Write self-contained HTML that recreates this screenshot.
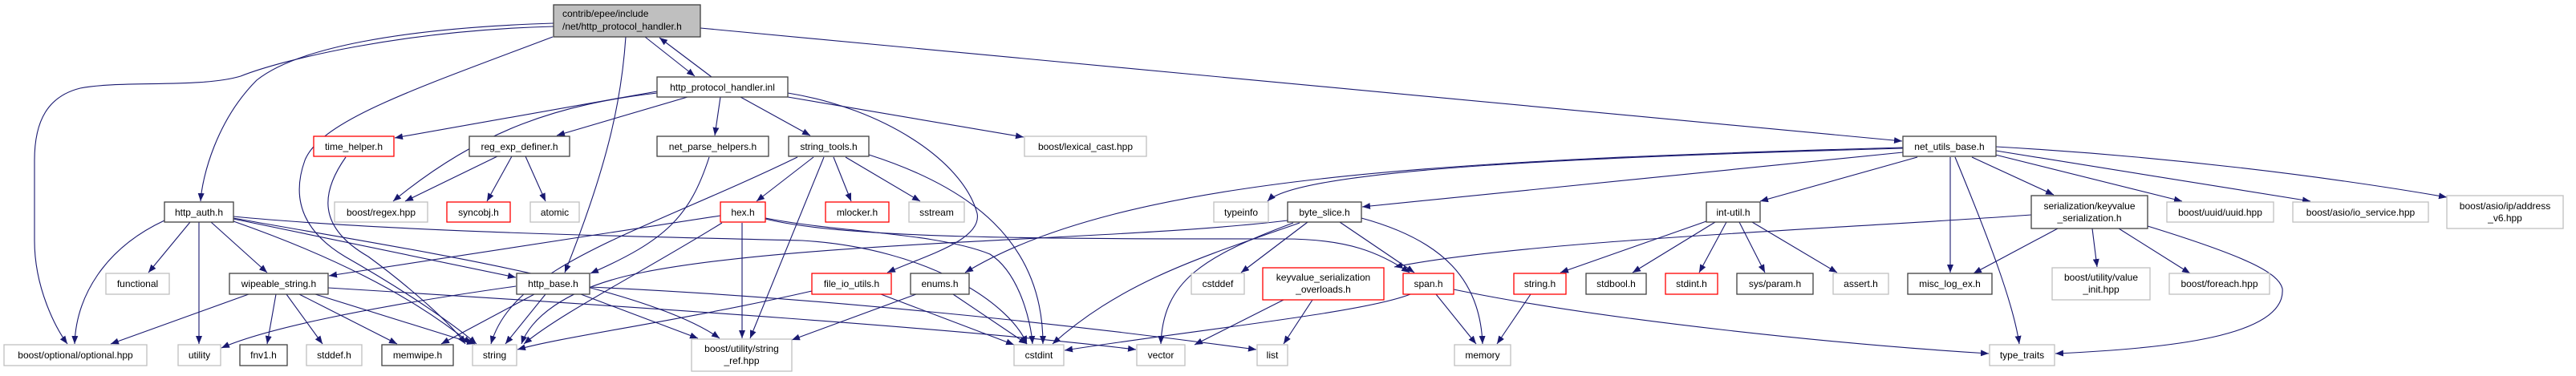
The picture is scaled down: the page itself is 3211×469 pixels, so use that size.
<!DOCTYPE html>
<html><head><meta charset="utf-8"><style>
html,body{margin:0;padding:0;background:#fff;}
svg{display:block;}
text{font-family:"Liberation Sans",Arial,sans-serif;font-size:12px;fill:#000;}
.e{fill:none;stroke:#191970;stroke-width:1.1;marker-end:url(#a);}
.b{fill:#fff;stroke:#404040;stroke-width:1.3;}
.g{fill:#fff;stroke:#bfbfbf;stroke-width:1.3;}
.r{fill:#fff;stroke:#ff0000;stroke-width:1.3;}
</style></head><body>
<svg width="3211" height="469" viewBox="0 0 3211 469" xmlns="http://www.w3.org/2000/svg">
<defs><marker id="a" markerUnits="userSpaceOnUse" markerWidth="11" markerHeight="8" refX="10" refY="4" orient="auto"><path d="M0,0 L10,4 L0,8 Z" fill="#191970"/></marker></defs>
<g>
<path class="e" d="M690,33 C500,38 350,75 300,95 C250,110 150,100 100,110 C60,120 43,150 43,200 L43,300 C43,360 70,410 84,429"/>
<path class="e" d="M690,29 C500,35 370,60 320,100 C270,150 252,220 250,251"/>
<path class="e" d="M689,46 C520,110 400,150 380,200 C362,250 380,290 430,320 C500,360 560,400 594,429"/>
<path class="e" d="M780,46 C775,120 760,200 704,340"/>
<path class="e" d="M804,46 L866,95"/>
<path class="e" d="M887,96 L822,47"/>
<path class="e" d="M873,35 L2371,176"/>
<path class="e" d="M819,114 L492,172"/>
<path class="e" d="M819,116 C700,130 600,160 490,251"/>
<path class="e" d="M857,121 L694,169"/>
<path class="e" d="M898,121 L891,169"/>
<path class="e" d="M923,121 L1010,169"/>
<path class="e" d="M982,121 L1276,171"/>
<path class="e" d="M982,116 C1100,135 1200,200 1218,266 C1225,300 1150,320 1106,340"/>
<path class="e" d="M431,196 C400,240 395,283 459,320 C500,350 560,400 580,429"/>
<path class="e" d="M620,195 L505,251"/>
<path class="e" d="M638,195 L607,251"/>
<path class="e" d="M655,195 L680,251"/>
<path class="e" d="M884,196 C860,270 830,300 736,341"/>
<path class="e" d="M994,196 C800,290 640,330 612,429"/>
<path class="e" d="M1014,196 L943,251"/>
<path class="e" d="M1027,196 L935,422"/>
<path class="e" d="M1039,196 L1061,251"/>
<path class="e" d="M1054,196 L1147,251"/>
<path class="e" d="M1083,193 C1208,233 1300,300 1300,429"/>
<path class="e" d="M898,269 L410,344"/>
<path class="e" d="M900,278 C800,340 700,390 653,429"/>
<path class="e" d="M925,278 L925,422"/>
<path class="e" d="M954,272 C1045,290 1167,290 1234,317 C1270,340 1285,400 1287,429"/>
<path class="e" d="M954,273 C1055,298 1300,298 1600,298 C1680,298 1720,315 1757,340"/>
<path class="e" d="M205,275 C130,310 95,370 93,429"/>
<path class="e" d="M237,277 L185,340"/>
<path class="e" d="M248,277 L248,429"/>
<path class="e" d="M263,277 L333,340"/>
<path class="e" d="M291,276 C408,317 510,366 587,429"/>
<path class="e" d="M291,273 L643,346"/>
<path class="e" d="M291,272 C500,310 800,353 897,422"/>
<path class="e" d="M291,270 C500,290 800,295 1000,300 C1160,310 1260,380 1280,429"/>
<path class="e" d="M310,367 L138,429"/>
<path class="e" d="M344,367 L333,429"/>
<path class="e" d="M357,367 L402,429"/>
<path class="e" d="M373,367 L495,429"/>
<path class="e" d="M393,367 L592,429"/>
<path class="e" d="M409,359 C800,383 1200,410 1416,436"/>
<path class="e" d="M643,357 C459,383 330,410 276,434"/>
<path class="e" d="M666,367 L550,429"/>
<path class="e" d="M680,367 L630,429"/>
<path class="e" d="M724,367 L870,422"/>
<path class="e" d="M735,358 C1000,370 1300,400 1566,436"/>
<path class="e" d="M1012,363 C850,400 700,420 645,436"/>
<path class="e" d="M1098,367 L1264,430"/>
<path class="e" d="M1142,367 L987,424"/>
<path class="e" d="M1188,367 L1280,429"/>
<path class="e" d="M2372,190 L1698,258"/>
<path class="e" d="M2372,185 C2000,195 1620,210 1580,251"/>
<path class="e" d="M2372,184 C1800,200 1400,220 1203,340"/>
<path class="e" d="M2390,196 L2194,251"/>
<path class="e" d="M2458,196 L2560,243"/>
<path class="e" d="M2431,196 L2431,340"/>
<path class="e" d="M2437,196 C2480,300 2510,380 2517,429"/>
<path class="e" d="M2487,193 L2720,251"/>
<path class="e" d="M2488,188 L2880,251"/>
<path class="e" d="M2488,183 C2700,195 2900,220 3050,246"/>
<path class="e" d="M1697,272 C1800,300 1845,350 1848,429"/>
<path class="e" d="M1670,277 L1763,340"/>
<path class="e" d="M1630,277 L1547,340"/>
<path class="e" d="M1620,278 C1500,320 1400,350 1312,429"/>
<path class="e" d="M1612,278 C1500,320 1450,350 1447,429"/>
<path class="e" d="M1605,275 C1400,300 1000,300 800,340 C700,360 660,400 650,429"/>
<path class="e" d="M2127,276 L1945,340"/>
<path class="e" d="M2138,277 L2035,340"/>
<path class="e" d="M2152,277 L2118,340"/>
<path class="e" d="M2168,277 L2200,340"/>
<path class="e" d="M2184,277 L2290,340"/>
<path class="e" d="M2532,268 C2300,285 1900,300 1738,333"/>
<path class="e" d="M2565,285 L2460,341"/>
<path class="e" d="M2608,285 L2614,333"/>
<path class="e" d="M2641,285 L2730,341"/>
<path class="e" d="M2677,282 C2800,320 2840,340 2845,360 C2850,420 2700,435 2562,441"/>
<path class="e" d="M1600,374 L1489,430"/>
<path class="e" d="M1636,374 L1600,429"/>
<path class="e" d="M1790,367 L1840,429"/>
<path class="e" d="M1758,367 C1700,390 1500,410 1327,437"/>
<path class="e" d="M1812,361 C2000,400 2300,430 2479,441"/>
<path class="e" d="M1908,367 L1866,429"/>
</g>
<g>
<rect x="690" y="6" width="183" height="40" fill="#bfbfbf" stroke="#404040" stroke-width="1.3"/>
<text x="701" y="21">contrib/epee/include</text>
<text x="701" y="37">/net/http_protocol_handler.h</text>
</g>
<g text-anchor="middle">
<rect class="b" x="819" y="96" width="163" height="25"/><text x="900.5" y="113">http_protocol_handler.inl</text>
<rect class="r" x="391" y="170" width="100" height="25"/><text x="441" y="187">time_helper.h</text>
<rect class="b" x="585" y="170" width="125" height="25"/><text x="647.5" y="187">reg_exp_definer.h</text>
<rect class="b" x="819" y="170" width="139" height="25"/><text x="888.5" y="187">net_parse_helpers.h</text>
<rect class="b" x="983" y="170" width="100" height="25"/><text x="1033" y="187">string_tools.h</text>
<rect class="g" x="1277" y="170" width="152" height="25"/><text x="1353" y="187">boost/lexical_cast.hpp</text>
<rect class="b" x="2372" y="170" width="116" height="25"/><text x="2430" y="187">net_utils_base.h</text>

<rect class="b" x="205" y="252" width="86" height="25"/><text x="248" y="269">http_auth.h</text>
<rect class="g" x="417" y="252" width="116" height="25"/><text x="475" y="269">boost/regex.hpp</text>
<rect class="r" x="557" y="252" width="79" height="25"/><text x="596.5" y="269">syncobj.h</text>
<rect class="g" x="661" y="252" width="61" height="25"/><text x="691.5" y="269">atomic</text>
<rect class="r" x="898" y="252" width="56" height="25"/><text x="926" y="269">hex.h</text>
<rect class="r" x="1029" y="252" width="79" height="25"/><text x="1068.5" y="269">mlocker.h</text>
<rect class="g" x="1133" y="252" width="69" height="25"/><text x="1167.5" y="269">sstream</text>
<rect class="g" x="1513" y="252" width="68" height="25"/><text x="1547" y="269">typeinfo</text>
<rect class="b" x="1605" y="252" width="92" height="25"/><text x="1651" y="269">byte_slice.h</text>
<rect class="b" x="2127" y="252" width="67" height="25"/><text x="2160.5" y="269">int-util.h</text>
<rect class="b" x="2532" y="244" width="145" height="41"/><text x="2604.5" y="261">serialization/keyvalue</text><text x="2604.5" y="276">_serialization.h</text>
<rect class="g" x="2701" y="252" width="133" height="25"/><text x="2767.5" y="269">boost/uuid/uuid.hpp</text>
<rect class="g" x="2858" y="252" width="169" height="25"/><text x="2942.5" y="269">boost/asio/io_service.hpp</text>
<rect class="g" x="3050" y="244" width="145" height="41"/><text x="3122.5" y="261">boost/asio/ip/address</text><text x="3122.5" y="276">_v6.hpp</text>

<rect class="g" x="132" y="341" width="79" height="26"/><text x="171.5" y="358">functional</text>
<rect class="b" x="286" y="341" width="123" height="26"/><text x="347.5" y="358">wipeable_string.h</text>
<rect class="b" x="644" y="341" width="91" height="26"/><text x="689.5" y="358">http_base.h</text>
<rect class="r" x="1012" y="341" width="99" height="26"/><text x="1061.5" y="358">file_io_utils.h</text>
<rect class="b" x="1135" y="341" width="73" height="26"/><text x="1171.5" y="358">enums.h</text>
<rect class="g" x="1485" y="341" width="66" height="26"/><text x="1518" y="358">cstddef</text>
<rect class="r" x="1574" y="334" width="151" height="40"/><text x="1649.5" y="350">keyvalue_serialization</text><text x="1649.5" y="365">_overloads.h</text>
<rect class="r" x="1749" y="341" width="63" height="26"/><text x="1780.5" y="358">span.h</text>
<rect class="r" x="1887" y="341" width="65" height="26"/><text x="1919.5" y="358">string.h</text>
<rect class="b" x="1977" y="341" width="75" height="26"/><text x="2014.5" y="358">stdbool.h</text>
<rect class="r" x="2076" y="341" width="65" height="26"/><text x="2108.5" y="358">stdint.h</text>
<rect class="b" x="2165" y="341" width="95" height="26"/><text x="2212.5" y="358">sys/param.h</text>
<rect class="g" x="2285" y="341" width="69" height="26"/><text x="2319.5" y="358">assert.h</text>
<rect class="b" x="2378" y="341" width="105" height="26"/><text x="2430.5" y="358">misc_log_ex.h</text>
<rect class="g" x="2558" y="334" width="122" height="40"/><text x="2619" y="350">boost/utility/value</text><text x="2619" y="365">_init.hpp</text>
<rect class="g" x="2704" y="341" width="125" height="26"/><text x="2766.5" y="358">boost/foreach.hpp</text>

<rect class="g" x="5" y="430" width="178" height="26"/><text x="94" y="447">boost/optional/optional.hpp</text>
<rect class="g" x="222" y="430" width="53" height="26"/><text x="248.5" y="447">utility</text>
<rect class="b" x="299" y="430" width="59" height="26"/><text x="328.5" y="447">fnv1.h</text>
<rect class="g" x="382" y="430" width="69" height="26"/><text x="416.5" y="447">stddef.h</text>
<rect class="b" x="476" y="430" width="89" height="26"/><text x="520.5" y="447">memwipe.h</text>
<rect class="g" x="589" y="430" width="55" height="26"/><text x="616.5" y="447">string</text>
<rect class="g" x="862" y="423" width="125" height="40"/><text x="924.5" y="439">boost/utility/string</text><text x="924.5" y="454">_ref.hpp</text>
<rect class="g" x="1264" y="430" width="62" height="26"/><text x="1295" y="447">cstdint</text>
<rect class="g" x="1417" y="430" width="60" height="26"/><text x="1447" y="447">vector</text>
<rect class="g" x="1567" y="430" width="38" height="26"/><text x="1586" y="447">list</text>
<rect class="g" x="1813" y="430" width="70" height="26"/><text x="1848" y="447">memory</text>
<rect class="g" x="2480" y="430" width="81" height="26"/><text x="2520.5" y="447">type_traits</text>
</g>
</svg>
</body></html>
